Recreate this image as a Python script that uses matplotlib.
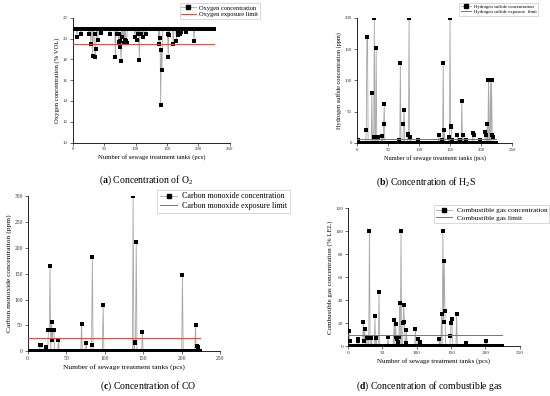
import numpy as np
import matplotlib
matplotlib.use('Agg')
import matplotlib.pyplot as plt
from matplotlib.lines import Line2D

plt.rcParams['font.family'] = ['Liberation Serif', 'DejaVu Serif']
plt.rcParams['mathtext.fontset'] = 'custom'
plt.rcParams['mathtext.rm'] = 'Liberation Serif'
plt.rcParams['mathtext.bf'] = 'Liberation Serif:bold'

n_tanks = 224
xlabel = 'Number of sewage treatment tanks (pcs)'

# Oxygen (% VOL): baseline reading plus the tanks that deviate from it
o2_baseline = 20.9
o2_limit = 19.5
o2_tanks = [7, 13, 26, 29, 32, 35, 36, 37, 40, 45, 59, 68, 70, 73, 74, 75, 76,
            77, 79, 81, 83, 85, 86, 99, 102, 104, 106, 108, 112, 116, 137,
            139, 140, 141, 142, 151, 152, 154, 160, 165, 167, 168, 170, 172,
            173, 181, 193]
o2_values = [20.2, 20.4, 20.4, 19.5, 18.3, 20.4, 18.2, 19.0, 19.9, 20.5, 20.4,
             18.2, 20.4, 19.7, 20.4, 19.8, 19.2, 17.8, 20.2, 19.6, 19.9, 19.8,
             19.6, 20.2, 19.9, 20.4, 17.9, 20.4, 20.2, 20.4, 19.5, 20.1, 13.6,
             18.9, 17.0, 20.4, 18.2, 20.3, 19.5, 19.8, 20.5, 20.3, 20.4, 20.6,
             20.7, 20.6, 19.8]

# Hydrogen sulfide (ppm)
h2s_baseline = 0
h2s_limit = 7
h2s_tanks = [2, 15, 16, 17, 24, 27, 28, 31, 34, 40, 43, 44, 68, 70, 75, 76, 82,
             83, 84, 86, 98, 132, 137, 139, 141, 148, 150, 151, 152, 154, 162,
             166, 169, 171, 175, 187, 188, 199, 207, 208, 210, 212, 215, 217,
             218, 219]
h2s_values = [4, 20, 170, 170, 80, 10, 200, 151, 10, 11, 31, 62, 5, 128, 30,
              52, 12, 15, 200, 10, 4, 12, 4, 128, 20, 10, 200, 27, 25, 4, 12,
              4, 67, 12, 4, 16, 13, 4, 17, 12, 31, 100, 100, 100, 12, 10]

# Carbon monoxide (ppm)
co_baseline = 0
co_limit = 25
co_tanks = [16, 17, 24, 27, 28, 29, 31, 32, 33, 34, 40, 70, 76, 83, 84, 98, 137,
            139, 140, 141, 149, 201, 218, 220, 221]
co_values = [13, 13, 8, 42, 42, 164, 57, 22, 42, 42, 22, 53, 16, 13, 182, 90,
             300, 18, 16, 211, 38, 147, 50, 10, 8]

# Combustible gas (% LEL)
gas_baseline = 0
gas_limit = 10
gas_tanks = [1, 2, 14, 15, 22, 23, 24, 27, 28, 30, 31, 34, 39, 41, 45, 58, 67,
             69, 70, 71, 73, 74, 75, 77, 80, 81, 82, 84, 85, 98, 102, 105, 133,
             136, 138, 139, 140, 141, 149, 150, 151, 158, 171, 201]
gas_values = [13, 5, 6, 5, 21, 5, 15, 7, 8, 7, 100, 7, 26, 7, 47, 8, 23, 19, 8,
              6, 4, 8, 38, 100, 20, 36, 21, 3, 14, 15, 6, 4, 6, 28, 100, 21, 74,
              31, 9, 20, 24, 28, 3, 5]


def series(baseline, tanks, values):
    """Full per-tank series: baseline reading with the deviating tanks set."""
    y = np.full(n_tanks, float(baseline))
    y[np.array(tanks) - 1] = values
    return np.arange(1, n_tanks + 1), y


def panel(fig, rect, x, y, limit, ylim, yticks, ylabel, ms, fs_tick, fs_lab):
    ax = fig.add_axes(rect)
    ax.plot(x, y, '-', color='#a8a8a8', linewidth=0.6, zorder=2)
    ax.plot(x, y, 's', color='black', markersize=ms, markeredgewidth=0,
            zorder=3)
    ax.plot([0, n_tanks], [limit, limit], color='#e8473f', linewidth=0.7,
            zorder=4)
    ax.set_xlim(0, 250)
    ax.set_ylim(*ylim)
    ax.set_xticks(np.arange(0, 251, 50))
    ax.set_yticks(yticks)
    for s in ['top', 'right']:
        ax.spines[s].set_visible(False)
    for s in ['left', 'bottom']:
        ax.spines[s].set_linewidth(0.6)
    ax.tick_params(direction='out', length=2, width=0.5, labelsize=fs_tick,
                   pad=1.5, colors='#333333')
    ax.set_xlabel(xlabel, fontsize=fs_lab, labelpad=2)
    ax.set_ylabel(ylabel, fontsize=fs_lab, labelpad=2)
    return ax


def add_legend(fig, labels, ms, fs, anchor):
    handles = [Line2D([], [], color='#a8a8a8', linewidth=0.6, marker='s',
                      markerfacecolor='black', markeredgecolor='black',
                      markersize=ms),
               Line2D([], [], color='#e8473f', linewidth=0.7)]
    leg = fig.legend(handles, labels, loc='upper right', bbox_to_anchor=anchor,
                     fontsize=fs, frameon=True, fancybox=False,
                     handlelength=2.2, handletextpad=0.6, borderpad=0.3,
                     labelspacing=0.2, borderaxespad=0)
    leg.get_frame().set_edgecolor('#bbbbbb')
    leg.get_frame().set_linewidth(0.5)


fig = plt.figure(figsize=(5.5, 3.96), dpi=100)

x, y = series(o2_baseline, o2_tanks, o2_values)
panel(fig, [0.132, 0.640, 0.286, 0.315], x, y, o2_limit, (10, 22),
      np.arange(10, 23, 2), 'Oxygen concentration (% VOL)', 2.8, 3.5, 4.8)
add_legend(fig, ['Oxygen concentration', 'Oxygen exposure limit'], 2.5, 4.6,
           (0.473, 0.992))

x, y = series(h2s_baseline, h2s_tanks, h2s_values)
panel(fig, [0.649, 0.639, 0.282, 0.316], x, y, h2s_limit, (0, 200),
      np.arange(0, 201, 50), 'Hydrogen sulfide concentration (ppm)', 2.6,
      3.5, 4.5)
add_legend(fig, ['Hydrogen sulfide concentration',
                 'Hydrogen sulfide exposure  limit'], 2.2, 3.4, (0.978, 0.992))

x, y = series(co_baseline, co_tanks, co_values)
panel(fig, [0.0503, 0.113, 0.35, 0.392], x, y, co_limit, (0, 300),
      np.arange(0, 301, 50), 'Carbon monoxide concentration (ppm)', 3.0,
      4.0, 5.4)
add_legend(fig, ['Carbon monoxide concentration',
                 'Carbon monoxide exposure limit'], 3.0, 5.8, (0.527, 0.52))

x, y = series(gas_baseline, gas_tanks, gas_values)
panel(fig, [0.633, 0.1255, 0.312, 0.349], x, y, gas_limit, (0, 120),
      np.arange(0, 121, 20), 'Combustible gas concentration (% LEL)', 2.7,
      3.8, 5.0)
add_legend(fig, ['Combustible gas concentration', 'Combustible gas limit'],
           2.7, 5.2, (0.999, 0.482))

captions = [(0.265, 0.545, r'($\mathbf{a}$) Concentration of O$_2$'),
            (0.775, 0.540, r'($\mathbf{b}$) Concentration of H$_2$S'),
            (0.27, 0.025, r'($\mathbf{c}$) Concentration of CO'),
            (0.782, 0.025, r'($\mathbf{d}$) Concentration of combustible gas')]
for cx, cy, text in captions:
    fig.text(cx, cy, text, ha='center', va='center', fontsize=7)

fig.savefig('out.png', dpi=100)
